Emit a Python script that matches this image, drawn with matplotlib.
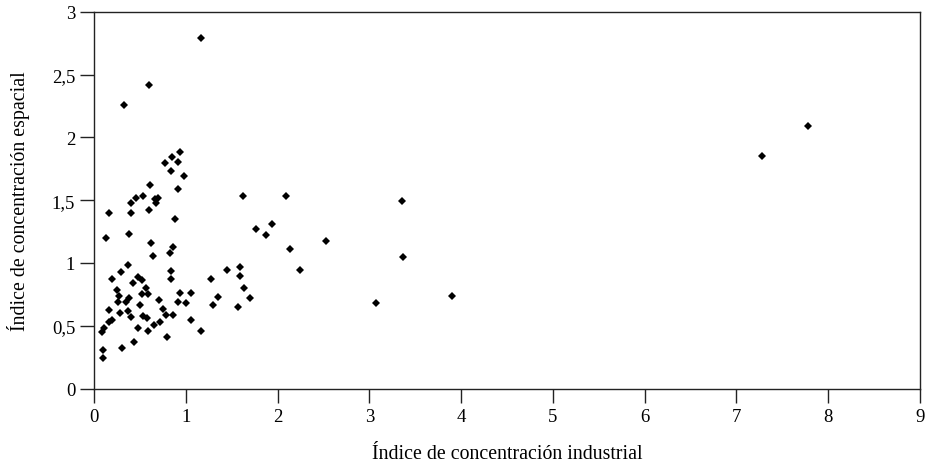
import matplotlib
matplotlib.use("Agg")
import matplotlib.pyplot as plt
from matplotlib.ticker import FuncFormatter

plt.rcParams["font.family"] = ["Liberation Serif", "DejaVu Serif"]

# índice de concentración industrial (x) / espacial (y), one pair per sector
ind_x = [
    0.935, 0.851, 0.768, 0.917, 0.833, 0.982, 0.611, 0.909, 0.451, 0.528,
    0.397, 0.691, 0.662, 0.673, 0.600, 0.397, 0.164, 1.620, 0.880, 0.124,
    0.375, 0.618, 0.644, 0.855, 0.826, 0.371, 0.291, 0.197, 0.833, 0.833,
    0.473, 0.517, 0.426, 0.248, 0.564, 0.273, 0.524, 0.586, 0.379, 0.262,
    0.349, 0.709, 0.930, 1.049, 0.909, 1.002, 0.502, 0.157, 0.364, 0.746,
    0.280, 0.404, 0.535, 0.578, 0.782, 0.862, 0.197, 0.164, 1.056, 0.717,
    0.655, 0.480, 0.109, 0.081, 0.582, 1.165, 0.796, 0.429, 0.299, 0.092,
    0.095, 1.272, 1.353, 1.296, 1.447, 1.585, 1.585, 1.630, 1.565, 2.094,
    1.760, 1.935, 1.869, 2.530, 2.138, 2.240, 1.698, 3.355, 3.366, 3.072,
    3.904, 7.780, 7.278, 1.164, 0.600, 0.324,
]
esp_y = [
    1.879, 1.847, 1.796, 1.804, 1.733, 1.693, 1.624, 1.589, 1.515, 1.534,
    1.473, 1.518, 1.505, 1.473, 1.422, 1.401, 1.401, 1.534, 1.351, 1.200,
    1.232, 1.160, 1.052, 1.123, 1.075, 0.986, 0.929, 0.874, 0.937, 0.874,
    0.884, 0.863, 0.839, 0.786, 0.797, 0.733, 0.752, 0.752, 0.717, 0.691,
    0.691, 0.706, 0.763, 0.763, 0.685, 0.677, 0.664, 0.627, 0.616, 0.632,
    0.598, 0.571, 0.579, 0.561, 0.587, 0.582, 0.545, 0.531, 0.548, 0.526,
    0.505, 0.481, 0.481, 0.447, 0.460, 0.460, 0.412, 0.372, 0.320, 0.304,
    0.240, 0.874, 0.730, 0.668, 0.946, 0.970, 0.893, 0.803, 0.645, 1.534,
    1.271, 1.306, 1.224, 1.176, 1.112, 0.945, 0.718, 1.495, 1.049, 0.683,
    0.734, 2.092, 1.853, 2.788, 2.419, 2.260,
]

x_ticks = list(range(0, 10))
y_ticks = [0, 0.5, 1, 1.5, 2, 2.5, 3]

fig = plt.figure(figsize=(9.27, 4.64), dpi=100)
ax = fig.add_axes([94.3 / 927, (464 - 389.5) / 464,
                   (919.7 - 94.3) / 927, (389.5 - 12.7) / 464])

ax.plot(ind_x, esp_y, ls="none", marker="D", ms=3.9, mew=0,
        color="black", clip_on=False)

ax.set_xlim(0, 9)
ax.set_ylim(0, 3)
ax.set_xticks(x_ticks)
ax.set_yticks(y_ticks)

# comma as decimal separator
comma = FuncFormatter(lambda v, p: f"{v:g}".replace(".", ","))
ax.xaxis.set_major_formatter(comma)
ax.yaxis.set_major_formatter(comma)

ax.tick_params(direction="out", length=9.8, width=1.0, color="#222222",
               labelsize=13.5, pad=4, top=False, right=False)
for sp in ax.spines.values():
    sp.set_linewidth(1.0)
    sp.set_color("#222222")

ax.set_xlabel("Índice de concentración industrial", fontsize=14.3, labelpad=14)
ax.set_ylabel("Índice de concentración espacial", fontsize=14.3, labelpad=16)

fig.savefig("out.png", dpi=100, facecolor="white")
plt.close(fig)
